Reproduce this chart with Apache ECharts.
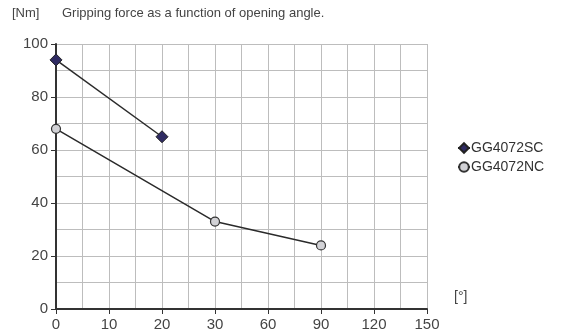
<!DOCTYPE html>
<html>
<head>
<meta charset="utf-8">
<style>
  html, body { margin: 0; padding: 0; background: #fff; }
  #container { width: 565px; height: 336px; }
</style>
<script src="https://cdn.jsdelivr.net/npm/echarts@6/dist/echarts.min.js"></script>
</head>
<body>
<div id="container"></div>
<script>
// opening angles shown on the x axis (evenly spaced, not to scale)
const angleLabels = ['0', '10', '20', '30', '60', '90', '120', '150'];
const scAngles = ['0', '20'];
const scForce = [94, 65];
const ncAngles = ['0', '30', '90'];
const ncForce = [68, 33, 24];
const yTicks = [0, 20, 40, 60, 80, 100];

const pos = a => angleLabels.indexOf(a);
const toPoints = (angles, vals) => angles.map((a, i) => [pos(a), vals[i]]);

var dom = document.getElementById('container');
var myChart = echarts.init(dom, null, { renderer: 'canvas' });

const font = 'Liberation Sans';
const gridLine = { show: true, lineStyle: { color: '#bdbdbd', width: 1, type: 'solid' } };

var option = {
  animation: false,
  textStyle: { fontFamily: font },
  graphic: [
    { type: 'text', left: 12, top: 7, style: { text: '[Nm]', font: '13px ' + font, fill: '#444' } },
    { type: 'text', left: 62, top: 7, style: { text: 'Gripping force as a function of opening angle.', font: '13px ' + font, fill: '#444' } },
    { type: 'text', left: 454, top: 290, style: { text: '[°]', font: '14px ' + font, fill: '#444' } }
  ],
  legend: {
    orient: 'vertical',
    left: 452,
    top: 136,
    itemWidth: 12,
    itemHeight: 12,
    itemGap: 5,
    textStyle: { fontFamily: font, fontSize: 14, color: '#333', padding: [0, 0, 0, -4] },
    data: ['GG4072SC', 'GG4072NC']
  },
  grid: { left: 56, right: 138, top: 44, bottom: 27 },
  xAxis: {
    type: 'value',
    min: 0,
    max: angleLabels.length - 1,
    interval: 1,
    axisLine: { show: true, lineStyle: { color: '#333', width: 2 } },
    axisTick: { show: true, length: 5, lineStyle: { color: '#333' } },
    axisLabel: {
      color: '#444', fontSize: 15, fontFamily: font, margin: 8,
      formatter: v => angleLabels[v] ?? ''
    },
    splitLine: gridLine,
    minorTick: { show: false, splitNumber: 2 },
    minorSplitLine: gridLine
  },
  yAxis: {
    type: 'value',
    min: yTicks[0],
    max: yTicks[yTicks.length - 1],
    interval: 20,
    axisLine: { show: true, lineStyle: { color: '#333', width: 2 } },
    axisTick: { show: true, length: 5, lineStyle: { color: '#333' } },
    axisLabel: { color: '#444', fontSize: 15, fontFamily: font, margin: 8 },
    splitLine: gridLine,
    minorTick: { show: false, splitNumber: 2 },
    minorSplitLine: gridLine
  },
  series: [
    {
      name: 'GG4072SC',
      type: 'line',
      data: toPoints(scAngles, scForce),
      symbol: 'diamond',
      symbolSize: 12,
      itemStyle: { color: '#2f2b62', borderColor: '#222', borderWidth: 1 },
      lineStyle: { color: '#2a2a2a', width: 1.5 },
      z: 3
    },
    {
      name: 'GG4072NC',
      type: 'line',
      data: toPoints(ncAngles, ncForce),
      symbol: 'circle',
      symbolSize: 9,
      itemStyle: { color: '#d2d2d6', borderColor: '#333', borderWidth: 1.2 },
      lineStyle: { color: '#2a2a2a', width: 1.5 },
      z: 3
    }
  ]
};

myChart.setOption(option);
window.addEventListener('resize', myChart.resize);
</script>
</body>
</html>
